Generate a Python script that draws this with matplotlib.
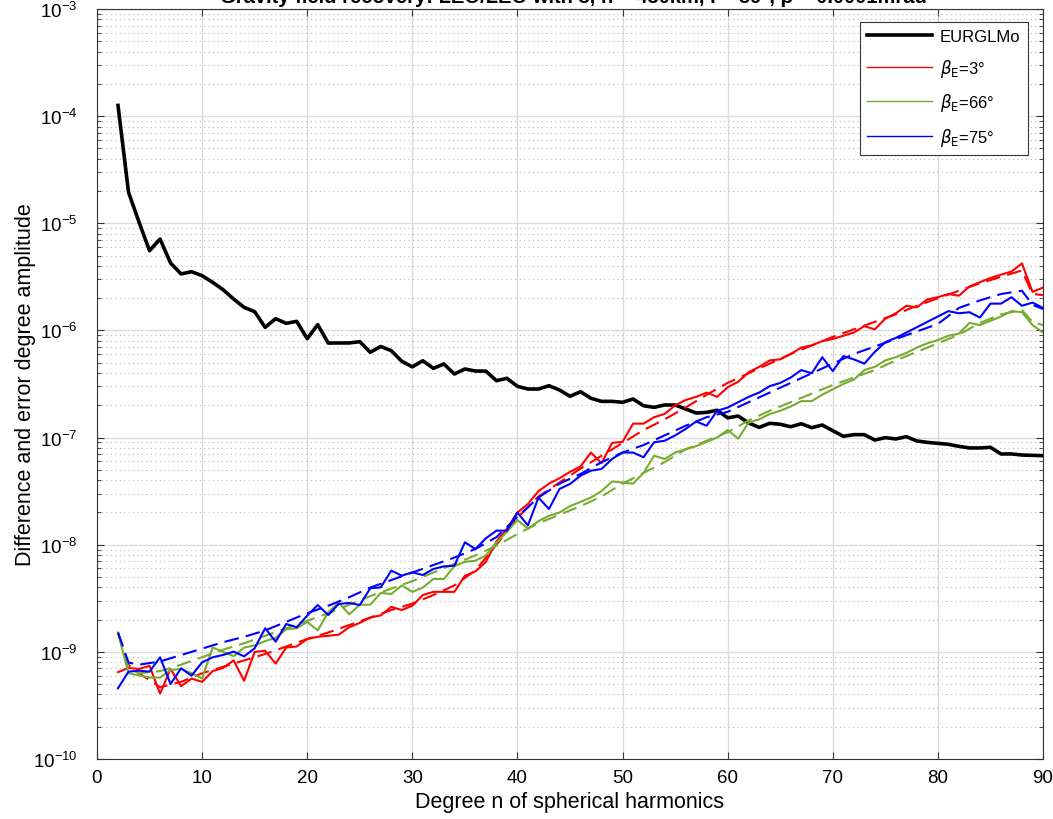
import numpy as np
import matplotlib
matplotlib.use("Agg")
import matplotlib.pyplot as plt
from matplotlib.ticker import LogLocator, NullFormatter

plt.rcParams['font.family'] = ['Liberation Sans', 'DejaVu Sans']

# spherical harmonic degree
degree = np.arange(2, 91)

# log10 of degree amplitudes
eurglmo_log = [-3.90, -4.71, -4.99, -5.256, -5.147, -5.371, -5.473, -5.452, -5.489,
               -5.551, -5.620, -5.707, -5.785, -5.825, -5.971, -5.89, -5.934, -5.915,
               -6.077, -5.946, -6.118, -6.117, -6.117, -6.105, -6.204, -6.150, -6.189,
               -6.288, -6.340, -6.283, -6.354, -6.313, -6.407, -6.360, -6.379, -6.380,
               -6.469, -6.447, -6.522, -6.547, -6.547, -6.516, -6.556, -6.615, -6.572,
               -6.634, -6.662, -6.662, -6.671, -6.640, -6.703, -6.718, -6.696, -6.696,
               -6.733, -6.771, -6.765, -6.745, -6.816, -6.799, -6.864, -6.905, -6.867,
               -6.876, -6.899, -6.871, -6.908, -6.883, -6.936, -6.988, -6.973, -6.973,
               -7.023, -7.001, -7.013, -6.992, -7.032, -7.045, -7.054, -7.063, -7.082,
               -7.097, -7.097, -7.091, -7.153, -7.153, -7.163, -7.166, -7.169]

beta3_log = [-9.19, -9.15, -9.16, -9.13, -9.39, -9.16, -9.32, -9.25, -9.28,
             -9.18, -9.15, -9.08, -9.27, -9.00, -8.99, -9.11, -8.96, -8.95,
             -8.88, -8.86, -8.85, -8.84, -8.77, -8.73, -8.68, -8.66, -8.58,
             -8.61, -8.57, -8.47, -8.44, -8.44, -8.44, -8.29, -8.25, -8.16,
             -7.97, -7.85, -7.70, -7.62, -7.50, -7.43, -7.38, -7.32, -7.27,
             -7.14, -7.24, -7.05, -7.04, -6.87, -6.87, -6.81, -6.78, -6.70,
             -6.65, -6.62, -6.58, -6.62, -6.53, -6.48, -6.39, -6.34, -6.28,
             -6.27, -6.22, -6.16, -6.14, -6.10, -6.08, -6.05, -6.02, -5.96,
             -5.99, -5.89, -5.84, -5.77, -5.785, -5.71, -5.69, -5.66, -5.676,
             -5.59, -5.55, -5.51, -5.48, -5.45, -5.375, -5.64, -5.60]

beta66_log = [-8.82, -9.20, -9.22, -9.24, -9.24, -9.17, -9.16, -9.20, -9.25,
              -8.96, -9.00, -9.04, -8.96, -8.94, -8.90, -8.87, -8.79, -8.78,
              -8.72, -8.80, -8.63, -8.54, -8.65, -8.56, -8.56, -8.45, -8.46,
              -8.38, -8.44, -8.40, -8.32, -8.32, -8.20, -8.16, -8.15, -8.10,
              -7.98, -7.88, -7.77, -7.85, -7.78, -7.73, -7.70, -7.64, -7.60,
              -7.56, -7.50, -7.41, -7.42, -7.43, -7.33, -7.17, -7.20, -7.14,
              -7.11, -7.08, -7.04, -7.00, -6.93, -7.01, -6.86, -6.83, -6.78,
              -6.75, -6.71, -6.66, -6.66, -6.60, -6.55, -6.50, -6.46, -6.37,
              -6.34, -6.28, -6.25, -6.21, -6.16, -6.12, -6.09, -6.05, -6.03,
              -5.93, -5.95, -5.91, -5.87, -5.82, -5.83, -5.95, -6.02]

beta75_log = [-9.34, -9.185, -9.176, -9.185, -9.051, -9.30, -9.154, -9.222, -9.098,
              -9.051, -9.029, -8.998, -9.042, -8.967, -8.78, -8.905, -8.74, -8.771,
              -8.662, -8.563, -8.656, -8.553, -8.544, -8.563, -8.407, -8.398, -8.242,
              -8.289, -8.258, -8.283, -8.227, -8.202, -8.196, -7.978, -8.040, -7.940,
              -7.869, -7.869, -7.70, -7.82, -7.56, -7.667, -7.48, -7.433, -7.356,
              -7.309, -7.293, -7.20, -7.14, -7.14, -7.184, -7.044, -7.03, -6.98,
              -6.92, -6.85, -6.89, -6.75, -6.72, -6.67, -6.62, -6.58, -6.52,
              -6.49, -6.44, -6.37, -6.40, -6.25, -6.38, -6.24, -6.27, -6.31,
              -6.20, -6.11, -6.07, -6.02, -5.97, -5.92, -5.87, -5.82, -5.84,
              -5.83, -5.88, -5.75, -5.75, -5.69, -5.77, -5.74, -5.79]

# dashed (smooth) curves, sampled at fewer degrees
fit_degree = [2, 3, 4, 6, 8, 10, 12, 14, 16, 18, 20, 22, 24, 26, 28, 30, 32, 34, 36, 38,
              40, 42, 44, 46, 48, 50, 52, 54, 56, 58, 60, 62, 64, 66, 68, 70, 72, 74,
              76, 78, 80, 82, 84, 86, 88, 89, 90]
beta3_fit_log = [-8.82, -9.12, -9.20, -9.33, -9.28, -9.20, -9.14, -9.08, -9.02, -8.95,
                 -8.88, -8.82, -8.75, -8.68, -8.61, -8.55, -8.47, -8.38, -8.24, -8.00,
                 -7.75, -7.55, -7.42, -7.29, -7.17, -7.05, -6.93, -6.83, -6.72, -6.60,
                 -6.49, -6.40, -6.31, -6.22, -6.14, -6.06, -5.99, -5.92, -5.85, -5.77,
                 -5.70, -5.63, -5.56, -5.50, -5.44, -5.66, -5.67]
beta66_fit_log = [-8.82, -9.15, -9.20, -9.18, -9.12, -9.05, -8.98, -8.92, -8.85, -8.78,
                  -8.71, -8.64, -8.56, -8.48, -8.41, -8.34, -8.26, -8.18, -8.10, -8.01,
                  -7.90, -7.80, -7.72, -7.64, -7.55, -7.43, -7.33, -7.23, -7.11, -7.03,
                  -6.95, -6.84, -6.75, -6.67, -6.59, -6.51, -6.44, -6.37, -6.28, -6.20,
                  -6.12, -6.04, -5.93, -5.85, -5.81, -5.92, -5.95]
beta75_fit_log = [-8.82, -9.10, -9.12, -9.09, -9.03, -8.97, -8.91, -8.86, -8.80, -8.72,
                  -8.64, -8.57, -8.49, -8.40, -8.33, -8.26, -8.19, -8.12, -8.04, -7.93,
                  -7.74, -7.56, -7.43, -7.34, -7.23, -7.14, -7.07, -6.98, -6.89, -6.81,
                  -6.76, -6.67, -6.58, -6.49, -6.40, -6.31, -6.22, -6.15, -6.08, -6.01,
                  -5.94, -5.79, -5.72, -5.66, -5.63, -5.76, -5.80]

labels = ['EURGLMo', r'$\beta_{\rm E}$=3°', r'$\beta_{\rm E}$=66°', r'$\beta_{\rm E}$=75°']
colors = ['black', '#ff0000', '#77ac30', '#0000ff']

title = 'Gravity field recovery: LEO/LEO with 3, h = 450km, I = 89°, ρ = 0.0001mrad'

fig = plt.figure(figsize=(10.53, 8.2), dpi=100)
ax = fig.add_axes([0.0921, 0.0732, 0.8984, 0.9146])

ax.semilogy(degree, 10.0 ** np.array(eurglmo_log), color=colors[0], lw=2.6, label=labels[0])
series = [beta3_log, beta66_log, beta75_log]
fits = [beta3_fit_log, beta66_fit_log, beta75_fit_log]
for vals, fit, c, lab in zip(series, fits, colors[1:], labels[1:]):
    ax.semilogy(degree, 10.0 ** np.array(vals), color=c, lw=1.5, label=lab)
    ax.semilogy(fit_degree, 10.0 ** np.array(fit), color=c, lw=1.5, ls=(0, (7, 3.5)))

ax.set_xlim(0, 90)
ax.set_ylim(1e-10, 1e-3)
ax.set_xticks(range(0, 91, 10))
ax.yaxis.set_major_locator(LogLocator(base=10, numticks=12))
ax.yaxis.set_minor_locator(LogLocator(base=10, subs=np.arange(2, 10), numticks=12))
ax.yaxis.set_minor_formatter(NullFormatter())

ax.grid(True, which='major', color='#dcdcdc', lw=1.0)
ax.grid(True, which='minor', axis='y', color='#b8b8b8', lw=0.8, ls=(0, (1, 3)))
ax.set_axisbelow(True)
ax.tick_params(which='both', direction='in', top=True, right=True, labelsize=13.5, color='#333333')
ax.tick_params(axis='y', which='major', pad=14)
ax.tick_params(axis='x', which='major', pad=7)
ax.tick_params(which='major', length=5)
ax.tick_params(which='minor', length=3)
for sp in ax.spines.values():
    sp.set_color('#333333')
    sp.set_linewidth(0.8)

ax.set_xlabel('Degree n of spherical harmonics', fontsize=15.5, labelpad=4)
ax.set_ylabel('Difference and error degree amplitude', fontsize=15.5, labelpad=-2)

leg = ax.legend(loc='upper right', bbox_to_anchor=(0.9875, 0.9875), fontsize=12, fancybox=False,
                edgecolor='#333333', framealpha=1, handlelength=3.9, labelspacing=0.75,
                borderpad=0.45, handletextpad=0.45, borderaxespad=0.2)
leg.get_frame().set_linewidth(0.8)
leg.get_lines()[0].set_linewidth(2.6)
for ln in leg.get_lines()[1:]:
    ln.set_linewidth(1.0)

fig.text(0.545, 0.9965, title, ha='center', va='baseline', fontsize=14.5, fontweight='bold')

fig.savefig('out.png', dpi=100)
